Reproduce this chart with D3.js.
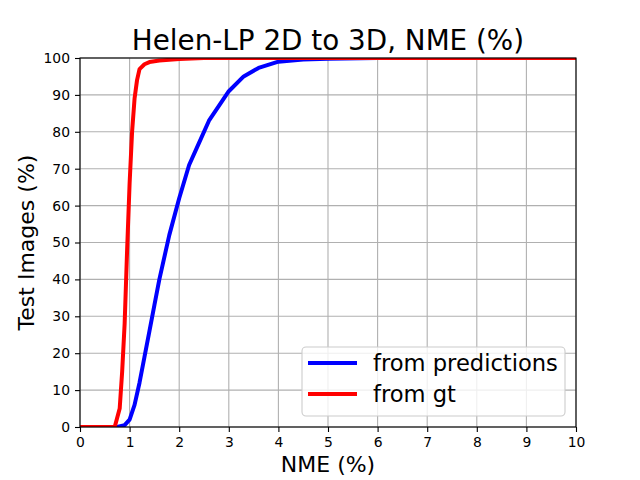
<!DOCTYPE html>
<html><head><meta charset="utf-8">
<script src="https://cdn.jsdelivr.net/npm/d3@7"></script>
<style>body{margin:0;background:#fff}text{font-family:"DejaVu Sans",sans-serif}</style>
</head><body>
<script>
const titleText = "Helen-LP 2D to 3D, NME (%)";
const xLabel = "NME (%)";
const yLabel = "Test Images (%)";
const xTicks = [0,1,2,3,4,5,6,7,8,9,10];
const yTicks = [0,10,20,30,40,50,60,70,80,90,100];
const seriesNames = ["from predictions", "from gt"];
const seriesColors = ["#0000ff", "#ff0000"];
const predX = [0,0.75,0.9,1.0,1.1,1.2,1.3,1.4,1.5,1.6,1.8,2.0,2.2,2.4,2.6,2.8,3.0,3.3,3.6,4.0,4.5,5.0,6.0,10];
const predY = [0,0,0.5,2,6,12,19,26,33,40,52,62,71,77,83,87,91,95,97.3,99,99.6,99.8,100,100];
const gtX = [0,0.7,0.8,0.85,0.9,0.95,1.0,1.05,1.1,1.15,1.2,1.3,1.4,1.6,2.0,2.5,10];
const gtY = [0,0,5,15,28,48,66,80,89,94,97,98.3,98.9,99.3,99.7,100,100];

const W=640,H=480, L=80,R=576,T=58,B=427;
const svg=d3.select("body").append("svg").attr("width",W).attr("height",H);
const x=d3.scaleLinear().domain([0,10]).range([L,R]);
const y=d3.scaleLinear().domain([0,100]).range([B,T]);
const g=svg.append("g");
// grid
g.selectAll(".gx").data(xTicks).join("line").attr("x1",d=>x(d)).attr("x2",d=>x(d)).attr("y1",T).attr("y2",B).attr("stroke","#b0b0b0").attr("stroke-width",1.1);
g.selectAll(".gy").data(yTicks).join("line").attr("y1",d=>y(d)).attr("y2",d=>y(d)).attr("x1",L).attr("x2",R).attr("stroke","#b0b0b0").attr("stroke-width",1.1);
// lines
svg.append("clipPath").attr("id","c").append("rect").attr("x",L).attr("y",T).attr("width",R-L).attr("height",B-T);
const line=d3.line().x(d=>x(d[0])).y(d=>y(d[1]));
const series=[predX.map((v,i)=>[v,predY[i]]), gtX.map((v,i)=>[v,gtY[i]])];
series.forEach((s,i)=>{
  svg.append("path").datum(s).attr("d",line).attr("fill","none").attr("stroke",seriesColors[i]).attr("stroke-width",4).attr("stroke-linejoin","round").attr("stroke-linecap","square").attr("clip-path","url(#c)");
});
// axes
const xa=d3.axisBottom(x).tickValues(xTicks).tickSize(5).tickPadding(5).tickFormat(d3.format("d"));
const ya=d3.axisLeft(y).tickValues(yTicks).tickSize(5).tickPadding(5).tickFormat(d3.format("d"));
const gx=svg.append("g").attr("transform",`translate(0,${B})`).call(xa);
const gy=svg.append("g").attr("transform",`translate(${L},0)`).call(ya);
[gx,gy].forEach(a=>{a.select(".domain").remove();a.selectAll("text").attr("font-size",13.9).attr("font-family","DejaVu Sans").attr("fill","#000");a.selectAll("line").attr("stroke","#000").attr("stroke-width",1.1);});
svg.append("rect").attr("x",L).attr("y",T).attr("width",R-L).attr("height",B-T).attr("fill","none").attr("stroke","#000").attr("stroke-width",1.1);
// title and labels
svg.append("text").attr("x",(L+R)/2).attr("y",50).attr("text-anchor","middle").attr("font-size",27.8).text(titleText);
svg.append("text").attr("x",(L+R)/2).attr("y",472).attr("text-anchor","middle").attr("font-size",22).text(xLabel);
svg.append("text").attr("transform",`translate(34,${(T+B)/2}) rotate(-90)`).attr("text-anchor","middle").attr("font-size",22).text(yLabel);
// legend
const lg=svg.append("g");
lg.append("rect").attr("x",302).attr("y",347).attr("width",263).attr("height",69).attr("rx",4).attr("fill","rgba(255,255,255,0.8)").attr("stroke","#cccccc").attr("stroke-width",1.1);
seriesNames.forEach((n,i)=>{
  const yy=363+i*31;
  lg.append("line").attr("x1",308).attr("x2",357).attr("y1",yy).attr("y2",yy).attr("stroke",seriesColors[i]).attr("stroke-width",4);
  lg.append("text").attr("x",373).attr("y",yy+8).attr("font-size",22.6).text(n);
});
</script>
</body></html>
